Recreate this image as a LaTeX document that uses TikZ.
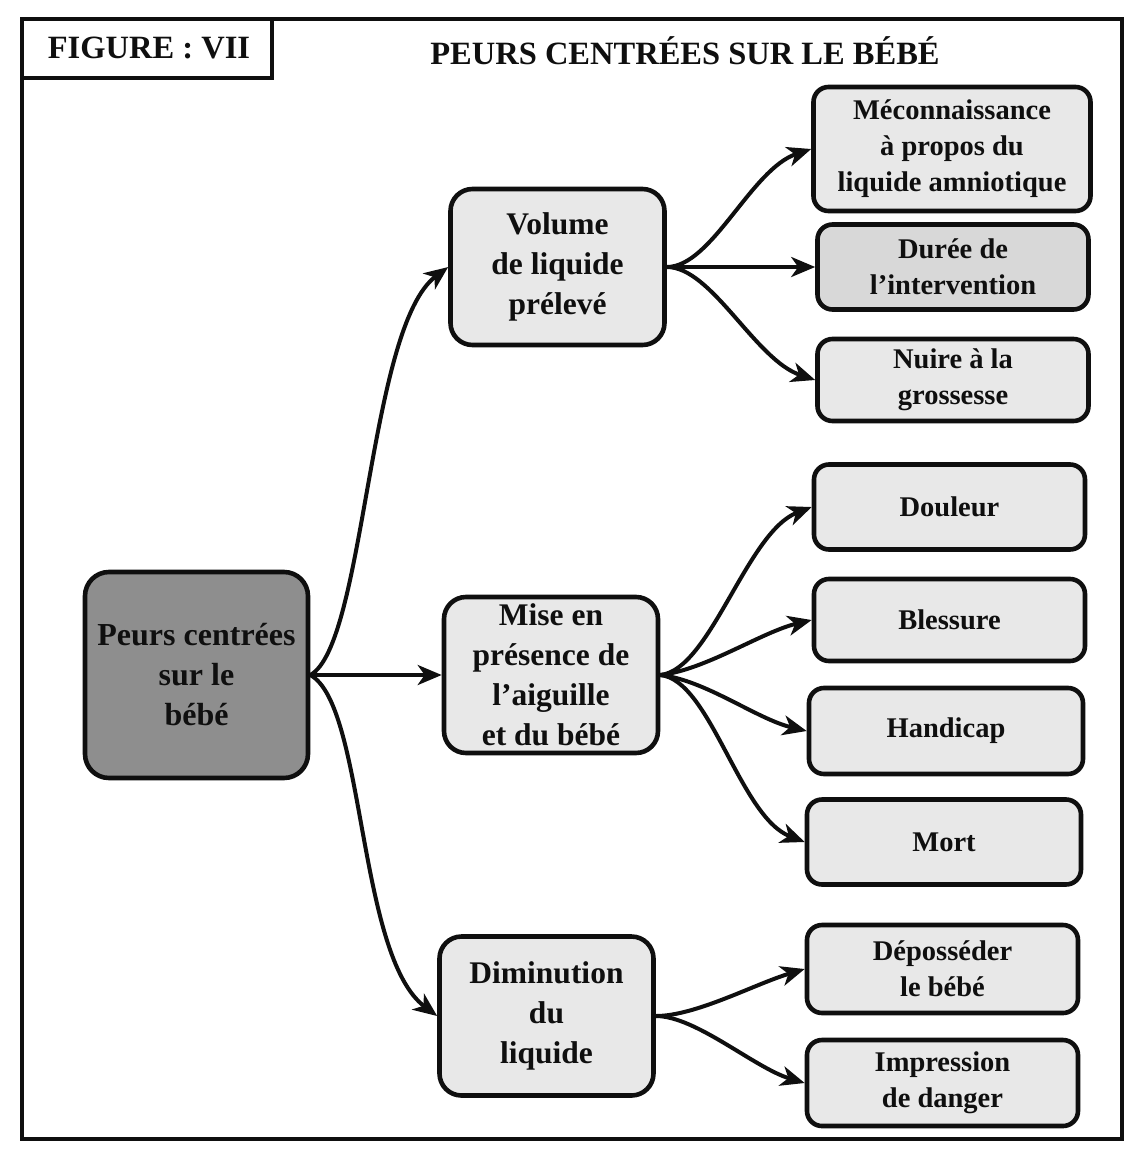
\documentclass[tikz,border=0pt]{standalone}
\usepackage{fontspec}
\setmainfont{Liberation Serif}
\usetikzlibrary{arrows.meta}

\definecolor{boxfill}{RGB}{232,232,232}
\definecolor{boxdark}{RGB}{216,216,216}
\definecolor{rootfill}{RGB}{142,142,142}
\definecolor{ink}{RGB}{15,15,15}

\tikzset{
  basebox/.style={draw=ink, line width=4.6pt, align=center, text=ink,
                  inner sep=0pt, font=\bfseries},
  rootbox/.style={basebox, fill=rootfill, rounded corners=24pt,
                  minimum width=223pt, minimum height=206pt,
                  font=\fontsize{32}{40}\selectfont\bfseries},
  midbox/.style={basebox, fill=boxfill, rounded corners=22pt,
                 minimum width=214pt, minimum height=156pt,
                 font=\fontsize{31.5}{40}\selectfont\bfseries},
  leafbox/.style={basebox, fill=boxfill, rounded corners=15pt,
                  minimum width=271pt,
                  font=\fontsize{28.5}{36}\selectfont\bfseries},
  conn/.style={draw=ink, line width=4pt,
               -{Stealth[length=24pt,width=20pt,inset=7pt]}},
  titletext/.style={text=ink, inner sep=0pt,
                    font=\fontsize{32.5}{38}\selectfont\bfseries}
}

\begin{document}
\begin{tikzpicture}[x=1pt,y=-1pt]
  \useasboundingbox (0,0) rectangle (1126,1149);

  % outer frame and caption box
  \draw[draw=ink, line width=3.4pt] (22,19) rectangle (1122,1139);
  \draw[draw=ink, line width=3.4pt] (22,19) rectangle (272,78);
  \node[titletext] (fig) at (149,48) {FIGURE : VII};
  \node[titletext] (title) at (685,51) {PEURS CENTRÉES SUR LE BÉBÉ};

  % root
  \node[rootbox] (root) at (196.5,675) {Peurs centrées\\sur le\\bébé};

  % second level
  \node[midbox] (vol)  at (557.5,267) {Volume\\de liquide\\prélevé};
  \node[midbox] (mise) at (551,675)   {Mise en\\présence de\\l’aiguille\\et du bébé};
  \node[midbox, minimum height=159pt] (dim) at (546.5,1016) {Diminution\\du\\liquide};

  % leaves
  \node[leafbox, minimum width=277pt, minimum height=124pt] (meco) at (952,149)
        {Méconnaissance\\à propos du\\liquide amniotique};
  \node[leafbox, fill=boxdark, minimum height=85pt] (duree) at (953,267)
        {Durée de\\l’intervention};
  \node[leafbox, minimum height=82pt] (nuire) at (953,380)
        {Nuire à la\\grossesse};

  \node[leafbox, minimum height=85pt] (doul)  at (949.5,507) {Douleur};
  \node[leafbox, minimum height=82pt] (bless) at (949.5,620) {Blessure};
  \node[leafbox, minimum width=274pt, minimum height=86pt] (hand) at (946,731) {Handicap};
  \node[leafbox, minimum width=274pt, minimum height=85pt] (mort) at (944,842) {Mort};

  \node[leafbox, minimum height=88pt] (depo) at (942.5,969)  {Déposséder\\le bébé};
  \node[leafbox, minimum height=86pt] (impr) at (942.5,1083) {Impression\\de danger};

  % connectors from the root
  \draw[conn] (root.east) .. controls +(55,-30) and +(-80,60) .. (vol.west);
  \draw[conn] (root.east) -- (mise.west);
  \draw[conn] (root.east) .. controls +(55,30) and +(-80,-60) .. (dim.west);

  % connectors from "Volume de liquide prélevé"
  \draw[conn] (vol.east) .. controls +(45,0) and +(-60,20) .. (meco.west);
  \draw[conn] (vol.east) -- (duree.west);
  \draw[conn] (vol.east) .. controls +(45,0) and +(-60,-20) .. (nuire.west);

  % connectors from "Mise en présence"
  \draw[conn] (mise.east) .. controls +(50,-5) and +(-65,25) .. (doul.west);
  \draw[conn] (mise.east) .. controls +(45,-5) and +(-50,12) .. (bless.west);
  \draw[conn] (mise.east) .. controls +(45,5) and +(-50,-12) .. (hand.west);
  \draw[conn] (mise.east) .. controls +(50,5) and +(-65,-25) .. (mort.west);

  % connectors from "Diminution du liquide"
  \draw[conn] (dim.east) .. controls +(40,0) and +(-50,15) .. (depo.west);
  \draw[conn] (dim.east) .. controls +(40,0) and +(-50,-15) .. (impr.west);
\end{tikzpicture}
\end{document}
